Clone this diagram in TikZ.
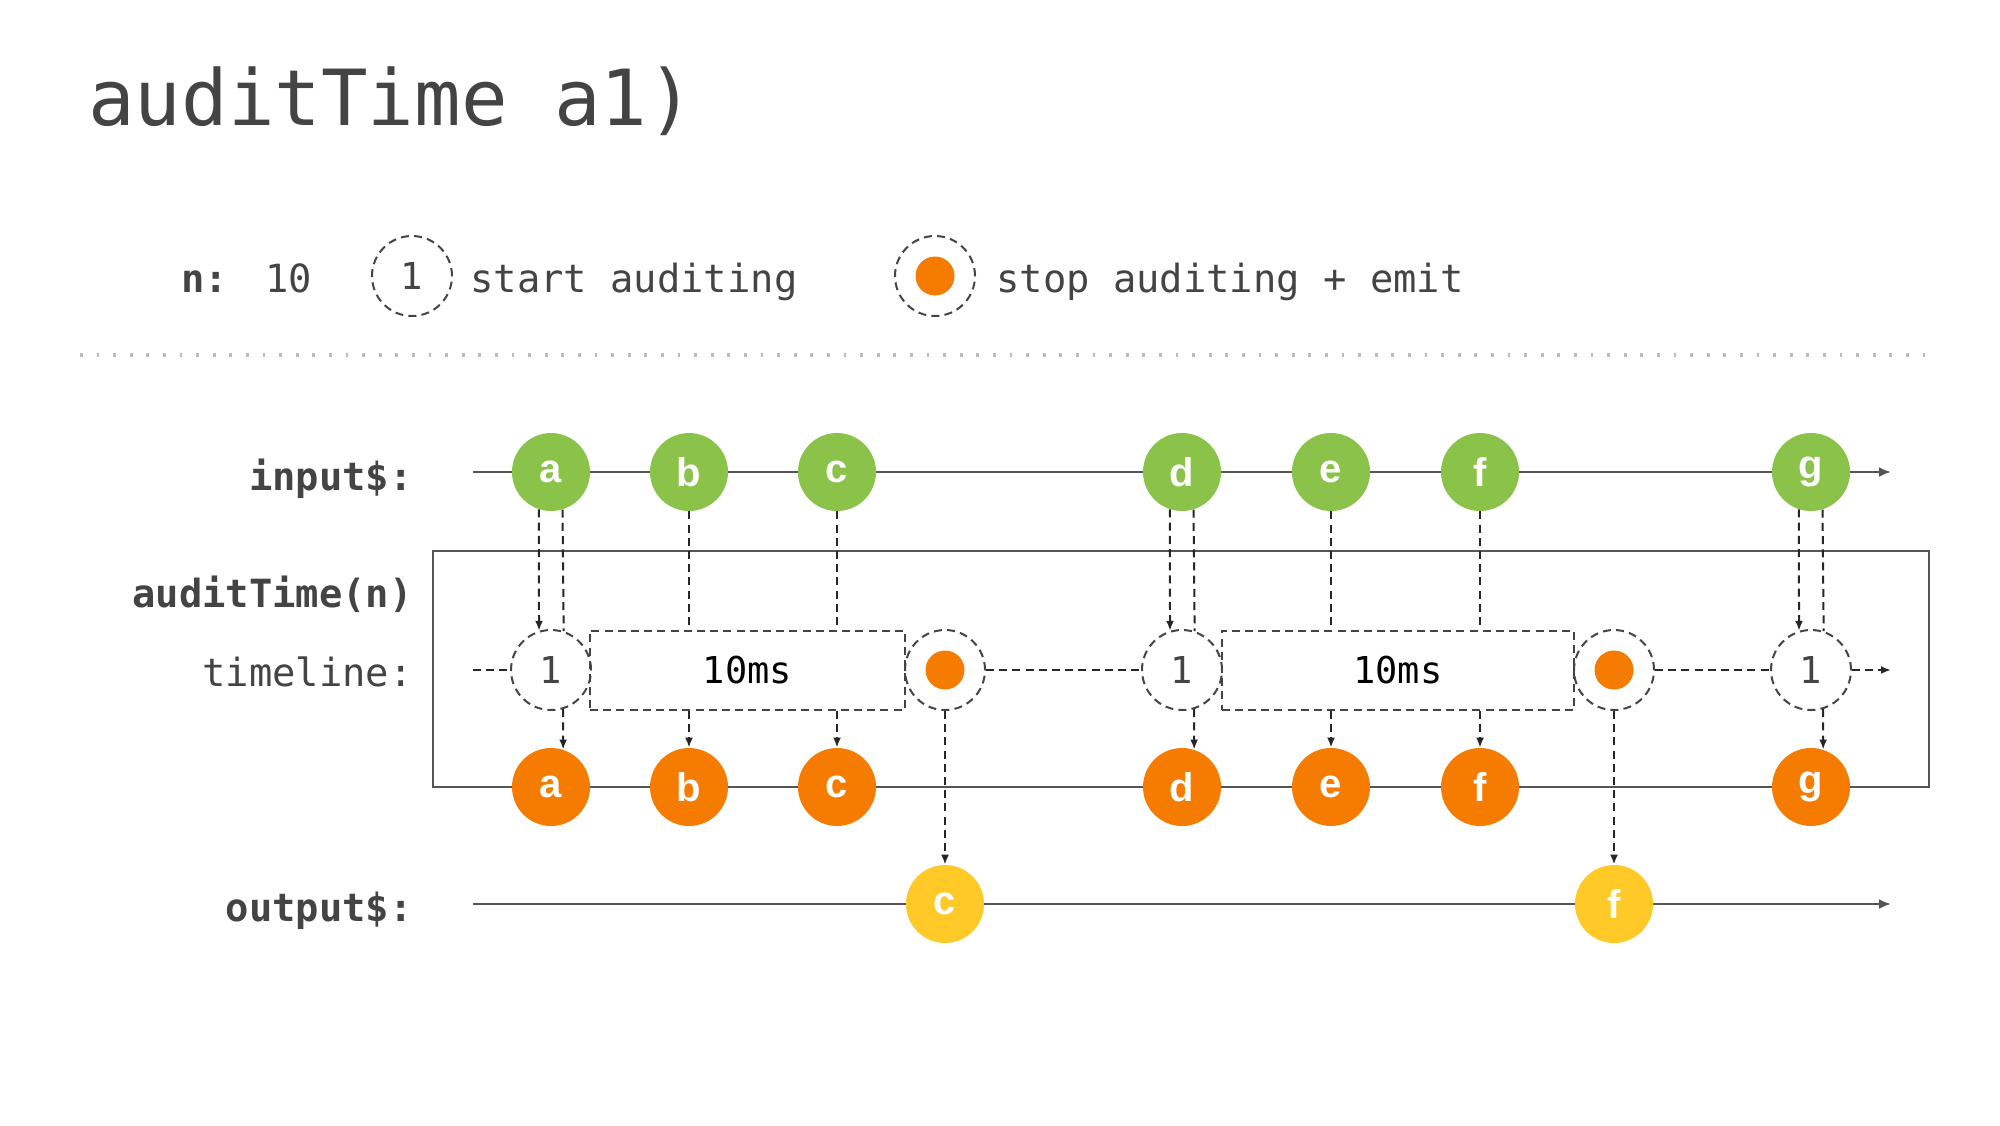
\documentclass[tikz,border=0pt]{standalone}
\usepackage{fontspec}
\usetikzlibrary{arrows.meta,calc}
\newfontfamily\monof{DejaVu Sans Mono}
\newfontfamily\marbf{Liberation Sans}
\definecolor{mgreen}{HTML}{8BC34A}
\definecolor{morange}{HTML}{F57C00}
\definecolor{myellow}{HTML}{FFCA28}
\definecolor{tgray}{HTML}{444444}
\definecolor{lgray}{HTML}{555555}
\definecolor{dotgray}{HTML}{BBBBBB}
\begin{document}
\begin{tikzpicture}[x=0.5pt,y=-0.5pt,
  marble/.style={circle, minimum size=39pt, inner sep=0pt, text=white, font=\marbf\bfseries\fontsize{20}{20}\selectfont},
  inmarble/.style={marble, fill=mgreen},
  opmarble/.style={marble, fill=morange},
  outmarble/.style={marble, fill=myellow},
  dashpat/.style={dash pattern=on 4pt off 2.6pt},
  dcirc/.style={circle, draw=tgray, line width=1pt, dashpat, minimum size=40pt, inner sep=0pt, text=tgray, font=\monof\fontsize{18.5}{18.5}\selectfont},
  dotnode/.style={circle, fill=morange, minimum size=19.5pt, inner sep=0pt},
  msbox/.style={rectangle, draw=tgray, line width=1pt, dashpat, minimum height=39.5pt, inner sep=0pt, text=black, font=\monof\fontsize{18.5}{18.5}\selectfont},
  conn/.style={draw=black!85, line width=1pt, dashpat},
  arr/.style={conn, -{Latex[length=5pt,width=4pt]}},
  sline/.style={draw=lgray, line width=1.3pt},
  sarr/.style={sline, -{Latex[length=6pt,width=5pt]}},
  lbl/.style={anchor=base east, inner sep=0pt, text=tgray, font=\monof\bfseries\fontsize{19.4}{19.4}\selectfont},
  lblr/.style={anchor=base east, inner sep=0pt, text=tgray, font=\monof\fontsize{19.4}{19.4}\selectfont},
  legtxt/.style={anchor=base west, inner sep=0pt, text=tgray, font=\monof\fontsize{19.4}{19.4}\selectfont},
]
\useasboundingbox (0,0) rectangle (2000,1125);

% title
\node[anchor=base west, text=tgray, inner sep=0pt, font=\monof\fontsize{38.7}{38.7}\selectfont] (title) at (88,125) {auditTime a1)};

% legend
\node[anchor=base west, inner sep=0pt, text=tgray, font=\monof\bfseries\fontsize{19.4}{19.4}\selectfont] (nlab) at (181,292) {n:};
\node[legtxt] (nval) at (265,292) {10};
\node[dcirc] (leg1) at (412,276) {1};
\node[legtxt] (legstart) at (470,292) {start auditing};
\node[dcirc] (leg2) at (935,276) {};
\node[dotnode] (leg2dot) at (leg2.center) {};
\node[legtxt] (legstop) at (996,292) {stop auditing + emit};

% dotted separator
\coordinate (sepL) at (80,355);
\coordinate (sepR) at (1930,355);
\draw[dotgray, line width=1.6pt, dash pattern=on 1.4pt off 6.9pt] (sepL) -- (sepR);

% row labels
\node[lbl] (linput) at (413,490) {input\$:};
\node[lbl] (laudit) at (413,607) {auditTime(n)};
\node[lblr] (ltime) at (413,686) {timeline:};
\node[lbl] (loutput) at (413,921) {output\$:};

% operator box
\draw[sline] (433,551) rectangle (1929,787);

% input line
\coordinate (inS) at (473,472);
\coordinate (inE) at (1891,472);
\draw[sarr] (inS) -- (inE);

% output line
\coordinate (outS) at (473,904);
\coordinate (outE) at (1891,904);
\draw[sarr] (outS) -- (outE);

% input marbles
\node[inmarble] (ina) at (551,472) {a};
\node[inmarble] (inb) at (689,472) {b};
\node[inmarble] (inc) at (837,472) {c};
\node[inmarble] (ind) at (1182,472) {d};
\node[inmarble] (ine) at (1331,472) {e};
\node[inmarble] (inf) at (1480,472) {f};
\node[inmarble] (ing) at (1811,472) {g};

% timeline
\node[dcirc] (t1) at (551,670) {1};
\node[msbox, minimum width=157.5pt] (ms1) at (747.5,670) {10ms};
\node[dcirc] (s1) at (945,670) {};
\node[dotnode] (s1dot) at (s1.center) {};
\node[dcirc] (t2) at (1182,670) {1};
\node[msbox, minimum width=176.25pt] (ms2) at (1397.75,670) {10ms};
\node[dcirc] (s2) at (1614,670) {};
\node[dotnode] (s2dot) at (s2.center) {};
\node[dcirc] (t3) at (1811,670) {1};
\coordinate (tS) at (473,670);
\coordinate (tE) at (1891,670);
\draw[conn] (tS) -- (t1.west);
\draw[conn] (s1.east) -- (t2.west);
\draw[conn] (s2.east) -- (t3.west);
\draw[arr] (t3.east) -- (tE);

% operator output marbles
\node[opmarble] (oa) at (551,787) {a};
\node[opmarble] (ob) at (689,787) {b};
\node[opmarble] (oc) at (837,787) {c};
\node[opmarble] (od) at (1182,787) {d};
\node[opmarble] (oe) at (1331,787) {e};
\node[opmarble] (of) at (1480,787) {f};
\node[opmarble] (og) at (1811,787) {g};

% output marbles
\node[outmarble] (yc) at (945,904) {c};
\node[outmarble] (yf) at (1614,904) {f};

% connectors: a
\draw[arr] (ina.252.5) -- (t1.107.5);
\draw[conn] (ina.287.5) -- (t1.72.5);
\draw[arr] (t1.287.5) -- (oa.72.5);
% b, c
\draw[conn] (inb.south) -- (inb.south |- ms1.north);
\draw[arr] (inb.south |- ms1.south) -- (ob.north);
\draw[conn] (inc.south) -- (inc.south |- ms1.north);
\draw[arr] (inc.south |- ms1.south) -- (oc.north);
% stop 1
\draw[arr] (s1.south) -- (yc.north);
% d
\draw[arr] (ind.252.5) -- (t2.107.5);
\draw[conn] (ind.287.5) -- (t2.72.5);
\draw[arr] (t2.287.5) -- (od.72.5);
% e, f
\draw[conn] (ine.south) -- (ine.south |- ms2.north);
\draw[arr] (ine.south |- ms2.south) -- (oe.north);
\draw[conn] (inf.south) -- (inf.south |- ms2.north);
\draw[arr] (inf.south |- ms2.south) -- (of.north);
% stop 2
\draw[arr] (s2.south) -- (yf.north);
% g
\draw[arr] (ing.252.5) -- (t3.107.5);
\draw[conn] (ing.287.5) -- (t3.72.5);
\draw[arr] (t3.287.5) -- (og.72.5);
\end{tikzpicture}
\end{document}
